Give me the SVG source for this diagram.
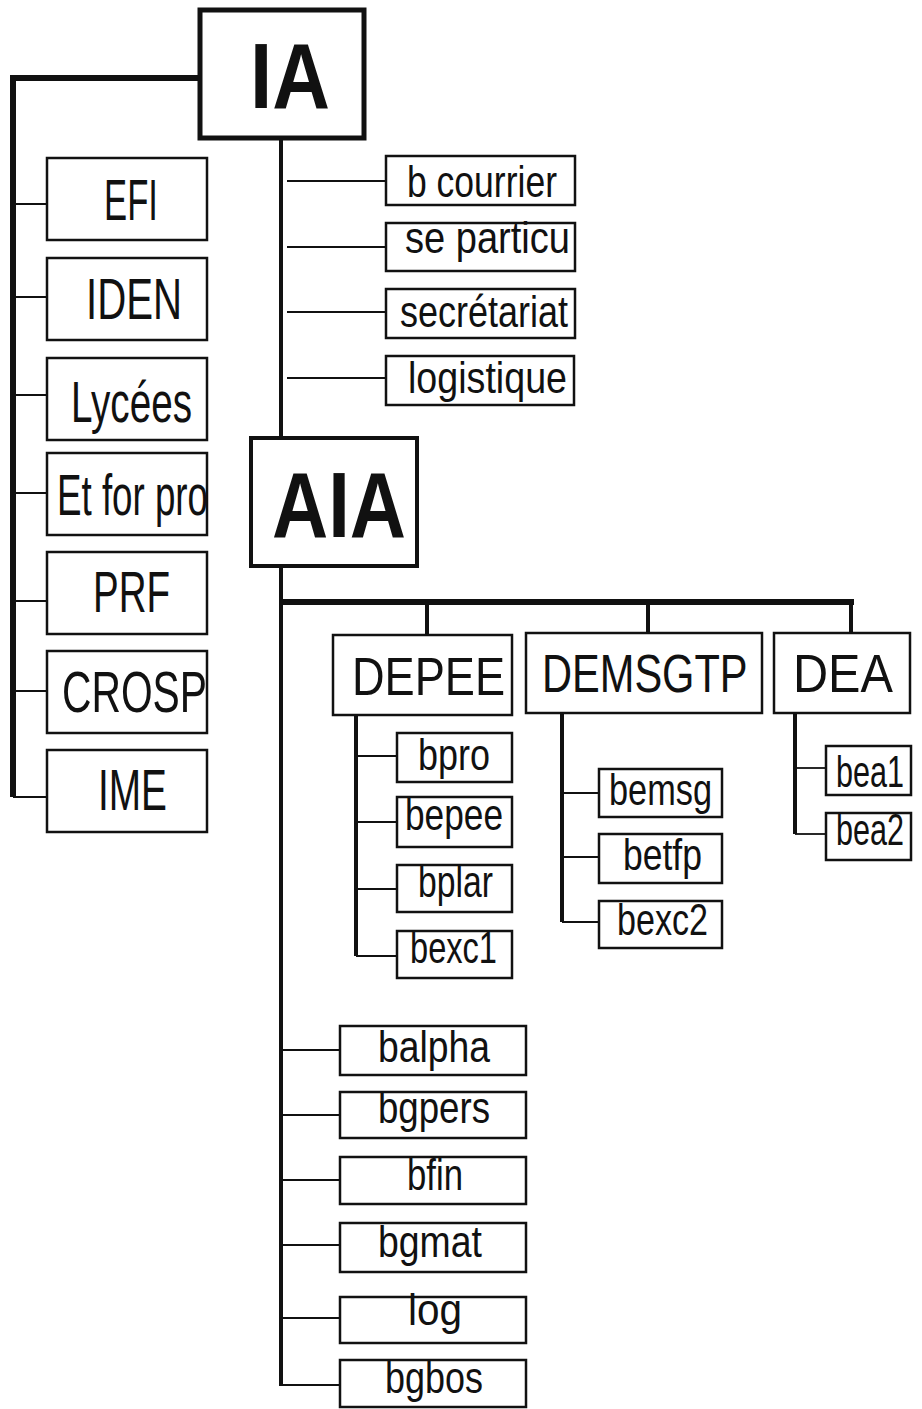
<svg xmlns="http://www.w3.org/2000/svg" width="922" height="1409" viewBox="0 0 922 1409">
<style>
.box{fill:#fff;stroke:#111;stroke-width:2.5}
.big{fill:#fff;stroke:#111;stroke-width:5}
.t{font-family:"Liberation Sans",Arial,sans-serif;fill:#111;text-anchor:start}
.s{font-size:45px}
.m{font-size:57px}
.d{font-size:54px}
.h{font-size:92px;font-weight:bold}
.thin{stroke:#111;stroke-width:1.8;fill:none}
.thick{stroke:#111;stroke-width:6;fill:none}
.mid{stroke:#111;stroke-width:4;fill:none}
</style>
<rect width="922" height="1409" fill="#fff"/>
<g id="connectors">
<polyline class="thick" points="198,78 13,78 13,797"/>
<line class="thin" x1="13" y1="204" x2="46" y2="204"/>
<line class="thin" x1="13" y1="297" x2="46" y2="297"/>
<line class="thin" x1="13" y1="395" x2="46" y2="395"/>
<line class="thin" x1="13" y1="493" x2="46" y2="493"/>
<line class="thin" x1="13" y1="601" x2="46" y2="601"/>
<line class="thin" x1="13" y1="691" x2="46" y2="691"/>
<line class="thin" x1="13" y1="797" x2="46" y2="797"/>
<line class="mid" x1="281" y1="140" x2="281" y2="1386"/>
<line class="thin" x1="287" y1="181" x2="385" y2="181"/>
<line class="thin" x1="287" y1="247" x2="385" y2="247"/>
<line class="thin" x1="287" y1="312" x2="385" y2="312"/>
<line class="thin" x1="287" y1="378" x2="385" y2="378"/>
<line class="thick" x1="281" y1="602" x2="854" y2="602"/>
<line class="mid" x1="427" y1="602" x2="427" y2="635"/>
<line class="mid" x1="648" y1="602" x2="648" y2="633"/>
<line class="mid" x1="851" y1="602" x2="851" y2="633"/>
<line class="mid" x1="356" y1="715" x2="356" y2="956"/>
<line class="thin" x1="356" y1="756" x2="397" y2="756"/>
<line class="thin" x1="356" y1="822" x2="397" y2="822"/>
<line class="thin" x1="356" y1="889" x2="397" y2="889"/>
<line class="thin" x1="356" y1="956" x2="397" y2="956"/>
<line class="mid" x1="562" y1="713" x2="562" y2="922"/>
<line class="thin" x1="562" y1="793" x2="599" y2="793"/>
<line class="thin" x1="562" y1="857" x2="599" y2="857"/>
<line class="thin" x1="562" y1="922" x2="599" y2="922"/>
<line class="mid" x1="795" y1="713" x2="795" y2="834"/>
<line class="thin" x1="795" y1="768" x2="826" y2="768"/>
<line class="thin" x1="795" y1="834" x2="826" y2="834"/>
<line class="thin" x1="283" y1="1050" x2="340" y2="1050"/>
<line class="thin" x1="283" y1="1115" x2="340" y2="1115"/>
<line class="thin" x1="283" y1="1180" x2="340" y2="1180"/>
<line class="thin" x1="283" y1="1245" x2="340" y2="1245"/>
<line class="thin" x1="283" y1="1318" x2="340" y2="1318"/>
<line class="thin" x1="283" y1="1385" x2="340" y2="1385"/>
</g>
<g id="IA"><rect class="big" x="200" y="10" width="164" height="128"/><text class="t h" x="250" y="108" textLength="80" lengthAdjust="spacingAndGlyphs">IA</text></g>
<g id="EFI"><rect class="box" x="47" y="158" width="160" height="82"/><text class="t m" x="104" y="220" textLength="54" lengthAdjust="spacingAndGlyphs">EFI</text></g>
<g id="IDEN"><rect class="box" x="47" y="258" width="160" height="82"/><text class="t m" x="86" y="319" textLength="96" lengthAdjust="spacingAndGlyphs">IDEN</text></g>
<g id="Lycees"><rect class="box" x="47" y="358" width="160" height="82"/><text class="t m" x="71" y="422" textLength="121" lengthAdjust="spacingAndGlyphs">Lycées</text></g>
<g id="Etforpro"><rect class="box" x="47" y="453" width="160" height="82"/><text class="t m" x="57" y="515" textLength="151" lengthAdjust="spacingAndGlyphs">Et for pro</text></g>
<g id="PRF"><rect class="box" x="47" y="552" width="160" height="82"/><text class="t m" x="93" y="612" textLength="77" lengthAdjust="spacingAndGlyphs">PRF</text></g>
<g id="CROSP"><rect class="box" x="47" y="651" width="160" height="82"/><text class="t m" x="62" y="712" textLength="145" lengthAdjust="spacingAndGlyphs">CROSP</text></g>
<g id="IME"><rect class="box" x="47" y="750" width="160" height="82"/><text class="t m" x="98" y="810" textLength="69" lengthAdjust="spacingAndGlyphs">IME</text></g>
<g id="bcourrier"><rect class="box" x="386" y="156" width="189" height="49"/><text class="t s" x="407" y="197" textLength="150" lengthAdjust="spacingAndGlyphs">b courrier</text></g>
<g id="separticu"><rect class="box" x="386" y="223" width="189" height="48"/><text class="t s" x="405" y="253" textLength="165" lengthAdjust="spacingAndGlyphs">se particu</text></g>
<g id="secretariat"><rect class="box" x="386" y="289" width="189" height="49"/><text class="t s" x="400" y="327" textLength="168" lengthAdjust="spacingAndGlyphs">secrétariat</text></g>
<g id="logistique"><rect class="box" x="386" y="356" width="188" height="49"/><text class="t s" x="408" y="393" textLength="159" lengthAdjust="spacingAndGlyphs">logistique</text></g>
<g id="AIA"><rect class="big" x="251" y="438" width="166" height="128" style="stroke-width:4"/><text class="t h" x="272" y="537" textLength="134" lengthAdjust="spacingAndGlyphs">AIA</text></g>
<g id="DEPEE"><rect class="box" x="333" y="635" width="179" height="80"/><text class="t d" x="352" y="695" textLength="153" lengthAdjust="spacingAndGlyphs">DEPEE</text></g>
<g id="DEMSGTP"><rect class="box" x="526" y="633" width="236" height="80"/><text class="t d" transform="translate(542,692) scale(0.77,1)">DEMSGTP</text></g>
<g id="DEA"><rect class="box" x="774" y="633" width="136" height="80"/><text class="t d" x="793" y="692" textLength="100" lengthAdjust="spacingAndGlyphs">DEA</text></g>
<g id="bpro"><rect class="box" x="397" y="733" width="115" height="49"/><text class="t s" x="418" y="770" textLength="72" lengthAdjust="spacingAndGlyphs">bpro</text></g>
<g id="bepee"><rect class="box" x="397" y="797" width="115" height="50"/><text class="t s" x="405" y="830" textLength="98" lengthAdjust="spacingAndGlyphs">bepee</text></g>
<g id="bplar"><rect class="box" x="397" y="865" width="115" height="47"/><text class="t s" x="418" y="897" textLength="75" lengthAdjust="spacingAndGlyphs">bplar</text></g>
<g id="bexc1"><rect class="box" x="397" y="931" width="115" height="47"/><text class="t s" x="410" y="963" textLength="87" lengthAdjust="spacingAndGlyphs">bexc1</text></g>
<g id="bemsg"><rect class="box" x="599" y="769" width="123" height="48"/><text class="t s" x="609" y="805" textLength="103" lengthAdjust="spacingAndGlyphs">bemsg</text></g>
<g id="betfp"><rect class="box" x="599" y="834" width="123" height="49"/><text class="t s" x="623" y="870" textLength="79" lengthAdjust="spacingAndGlyphs">betfp</text></g>
<g id="bexc2"><rect class="box" x="599" y="901" width="123" height="47"/><text class="t s" x="617" y="935" textLength="91" lengthAdjust="spacingAndGlyphs">bexc2</text></g>
<g id="bea1"><rect class="box" x="826" y="746" width="85" height="49"/><text class="t s" transform="translate(836,787) scale(0.68,1)">bea1</text></g>
<g id="bea2"><rect class="box" x="826" y="813" width="85" height="47"/><text class="t s" transform="translate(836,845) scale(0.68,1)">bea2</text></g>
<g id="balpha"><rect class="box" x="340" y="1026" width="186" height="49"/><text class="t s" x="378" y="1062" textLength="112" lengthAdjust="spacingAndGlyphs">balpha</text></g>
<g id="bgpers"><rect class="box" x="340" y="1092" width="186" height="46"/><text class="t s" x="378" y="1123" textLength="112" lengthAdjust="spacingAndGlyphs">bgpers</text></g>
<g id="bfin"><rect class="box" x="340" y="1157" width="186" height="47"/><text class="t s" x="407" y="1190" textLength="56" lengthAdjust="spacingAndGlyphs">bfin</text></g>
<g id="bgmat"><rect class="box" x="340" y="1223" width="186" height="49"/><text class="t s" x="378" y="1257" textLength="104" lengthAdjust="spacingAndGlyphs">bgmat</text></g>
<g id="log"><rect class="box" x="340" y="1297" width="186" height="46"/><text class="t s" x="408" y="1325" textLength="54" lengthAdjust="spacingAndGlyphs">log</text></g>
<g id="bgbos"><rect class="box" x="340" y="1360" width="186" height="47"/><text class="t s" x="385" y="1393" textLength="98" lengthAdjust="spacingAndGlyphs">bgbos</text></g>
</svg>
